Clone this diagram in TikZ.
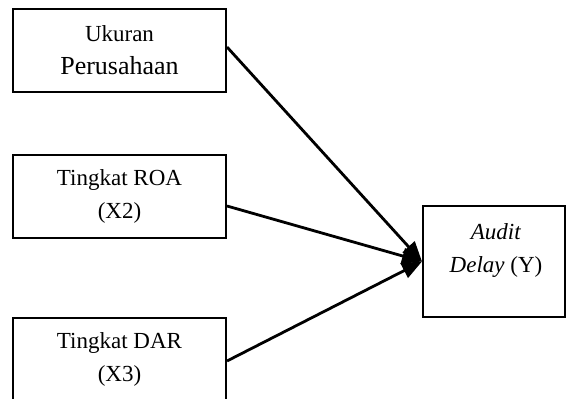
\documentclass[tikz,border=0pt]{standalone}
\usepackage{fontspec}
\setmainfont{Liberation Serif}
\usetikzlibrary{arrows.meta}
\begin{document}
\begin{tikzpicture}[x=1pt,y=-1pt,
  box/.style={draw, line width=2pt, minimum width=213pt, minimum height=83pt, inner sep=0pt, align=center, font=\fontsize{23}{33}\selectfont},
  link/.style={line width=2.8pt, -{Triangle[length=20pt,width=16pt]}}]
\useasboundingbox (0,0) rectangle (566,399);
\clip (0,0) rectangle (566,399);
\node[box] (b1) at (119.5,50.5) {Ukuran\\\fontsize{26}{33}\selectfont Perusahaan};
\node[box] (b2) at (119.5,196.5) {Tingkat ROA\\(X2)};
\node[box] (b3) at (119.5,359.5) {Tingkat DAR\\(X3)};
\node[draw, line width=2pt, minimum width=142pt, minimum height=111pt, inner sep=0pt] (b4) at (494,261.5) {};
\node[align=center, inner sep=0pt, font=\fontsize{23}{33}\selectfont] (t4) at (496,251) {\textit{Audit}\\\textit{Delay} (Y)};
\draw[link] ([yshift=3.5pt]b1.east) -- (b4.west);
\draw[link] ([yshift=-9.5pt]b2.east) -- (b4.west);
\draw[link] ([yshift=-1.5pt]b3.east) -- (b4.west);
\end{tikzpicture}
\end{document}
